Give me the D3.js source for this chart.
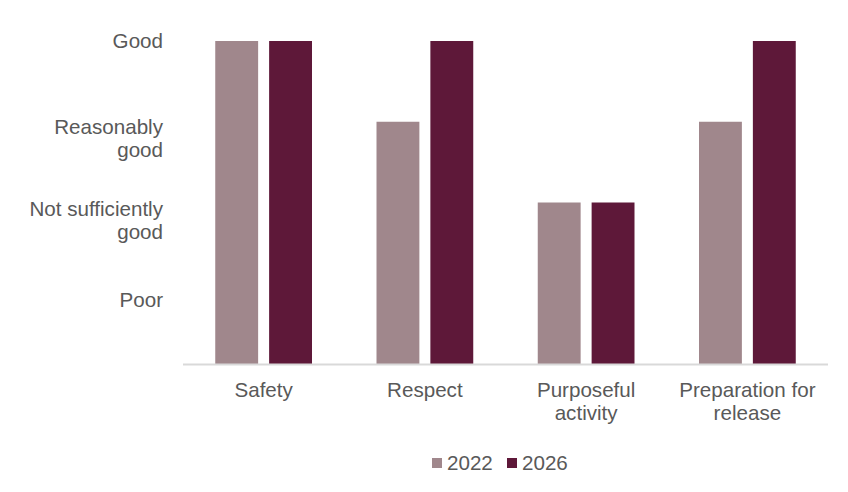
<!DOCTYPE html>
<html>
<head>
<meta charset="utf-8">
<script src="https://cdnjs.cloudflare.com/ajax/libs/d3/7.8.5/d3.min.js"></script>
<style>
	body { margin: 0; background: #fff; }
	svg { font-family: "Liberation Sans", Arial, sans-serif; }
	.lbl { fill: #595959; font-size: 20.6px; }
</style>
</head>
<body>
<svg width="848" height="492"></svg>
<script>
// data
var categories = [["Safety"], ["Respect"], ["Purposeful", "activity"], ["Preparation for", "release"]];
var years = ["2022", "2026"];
var values2022 = [4, 3, 2, 3];
var values2026 = [4, 4, 2, 4];
var ratingLabels = [["Good"], ["Reasonably", "good"], ["Not sufficiently", "good"], ["Poor"]];
var ratingPos = [4, 2.79, 1.78, 0.79];
var colors = ["#A0878C", "#5E1839"];

var svg = d3.select("svg"),
	margin = {top: 41, right: 20, bottom: 128, left: 183},
	width = 828 - margin.left,
	height = 364 - margin.top,
	g = svg.append("g").attr("transform", "translate(" + margin.left + "," + margin.top + ")");

//scales
var x = d3.scaleBand().domain(d3.range(categories.length)).range([0, width]).paddingInner(0.4).paddingOuter(0.2);
var x1 = d3.scaleBand().domain(years).range([0, x.bandwidth()]).paddingInner(0.204);
var y = d3.scaleLinear().domain([0, 4]).range([height, 0]);

var series = [values2022, values2026];

// bars
series.forEach(function(vals, s) {
	g.selectAll(".bar" + s)
		.data(vals)
		.enter().append("rect")
		.attr("x", function(d, i) { return x(i) + x1(years[s]); })
		.attr("y", function(d) { return y(d); })
		.attr("width", x1.bandwidth())
		.attr("height", function(d) { return y(0) - y(d); })
		.style("fill", colors[s]);
});

// baseline
g.append("line")
	.attr("x1", 0).attr("x2", width)
	.attr("y1", y(0) + 0.5).attr("y2", y(0) + 0.5)
	.style("stroke", "#d9d9d9").style("stroke-width", 2);

// category labels
var cat = g.selectAll(".cat").data(categories).enter().append("text")
	.attr("class", "lbl")
	.attr("text-anchor", "middle")
	.attr("transform", function(d, i) { return "translate(" + (x(i) + x.bandwidth() / 2) + "," + (y(0) + 33) + ")"; });
cat.selectAll("tspan").data(function(d) { return d; }).enter().append("tspan")
	.attr("x", 0)
	.attr("y", function(d, i) { return i * 23; })
	.text(function(d) { return d; });

// rating labels
var rl = g.selectAll(".rate").data(ratingLabels).enter().append("text")
	.attr("class", "lbl")
	.attr("text-anchor", "end")
	.attr("transform", function(d, i) { return "translate(-20," + (y(ratingPos[i]) - (d.length - 1) * 11.5 + 7) + ")"; });
rl.selectAll("tspan").data(function(d) { return d; }).enter().append("tspan")
	.attr("x", 0)
	.attr("y", function(d, i) { return i * 23; })
	.text(function(d) { return d; });

// legend
var legend = svg.append("g").attr("transform", "translate(432,463)");
var li = legend.selectAll("g").data(years).enter().append("g")
	.attr("transform", function(d, i) { return "translate(" + (i * 75) + ",0)"; });
li.append("rect").attr("x", 0).attr("y", -5).attr("width", 10).attr("height", 10)
	.style("fill", function(d, i) { return colors[i]; });
li.append("text").attr("class", "lbl").attr("x", 15).attr("y", 7).text(function(d) { return d; });
</script>
</body>
</html>
